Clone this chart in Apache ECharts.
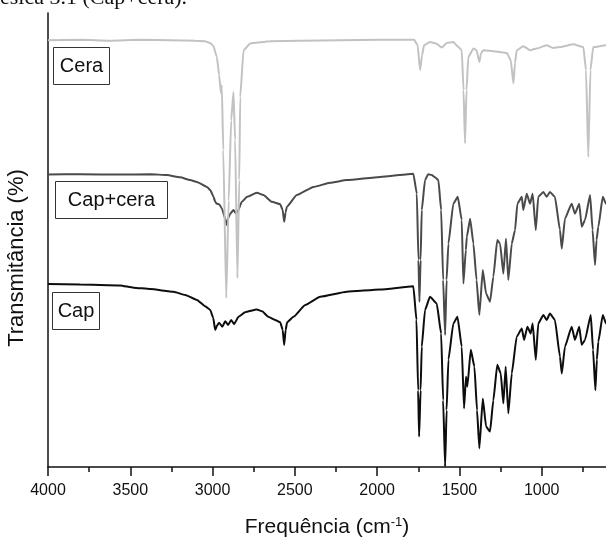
<!DOCTYPE html>
<html>
<head>
<meta charset="utf-8">
<script src="https://cdn.jsdelivr.net/npm/echarts@6/dist/echarts.min.js"></script>
<style>
html,body{margin:0;padding:0;background:#fff;overflow:hidden;}
#chart{width:630px;height:542px;}
</style>
</head>
<body>
<div id="chart"></div>
<script>
// Wavenumber ticks (cm-1)
const xTicks = [4000, 3500, 3000, 2500, 2000, 1500, 1000];

// Cera (wax)
const ceraWn = [4000,3804,3622,3439,3257,3105,3045,3015,2996,2974,2960,2949,2944,2935,2917,2902,2887,2873,2863,2849,2838,2832,2812,2771,2650,2468,2225,1982,1775,1754,1739,1727,1715,1679,1642,1607,1577,1537,1506,1486,1475,1466,1457,1446,1415,1396,1379,1369,1355,1294,1212,1188,1172,1162,1152,1112,1071,1030,970,931,889,808,747,731,717,704,687,610,524];
const ceraT  = [94.0,94.1,93.9,94.1,94.0,93.9,93.8,93.4,92.8,90.3,86.3,82.3,84.1,69.8,37.2,58.7,76.4,82.6,72.0,41.6,63.2,81.5,91.8,93.3,93.8,93.9,94.0,94.1,94.1,92.9,87.4,90.7,92.9,93.6,93.3,92.4,93.4,93.6,92.5,91.8,83.0,71.3,83.0,90.3,92.2,91.8,89.2,91.1,91.8,91.6,91.2,89.6,84.5,89.1,91.8,92.7,91.8,92.2,92.9,92.3,92.5,93.1,92.5,87.4,68.3,87.4,92.5,92.9,92.9];

// Cap+cera
const capCeraWn = [4000,3804,3561,3379,3277,3197,3136,3095,3034,3014,2994,2984,2974,2960,2943,2923,2913,2905,2893,2873,2859,2849,2822,2791,2731,2691,2640,2589,2574,2565,2556,2549,2488,2387,2286,2184,1982,1780,1759,1749,1743,1736,1729,1709,1690,1668,1648,1628,1611,1599,1587,1578,1567,1537,1510,1486,1476,1461,1455,1435,1415,1396,1379,1358,1338,1314,1294,1270,1253,1233,1217,1203,1182,1162,1148,1121,1112,1091,1071,1055,1036,1021,990,970,950,920,889,878,859,818,798,772,757,737,706,691,676,667,656,629,609,555];
const capCeraT  = [64.4,64.5,64.4,64.5,64.3,63.8,63.2,62.8,61.7,61.0,59.5,58.4,58.0,57.9,56.9,54.7,53.3,54.8,55.8,56.6,55.9,56.2,58.4,59.5,60.4,59.9,58.4,57.9,56.6,54.0,56.1,57.3,59.9,61.7,62.6,63.2,63.9,64.6,60.2,45.6,36.4,45.6,56.6,63.2,64.5,64.3,63.8,63.2,56.6,41.2,29.1,41.2,49.2,58.0,59.5,54.4,40.4,47.8,50.7,54.7,49.2,41.2,33.5,43.4,38.2,36.4,41.9,50.0,49.2,42.6,50.3,41.2,49.2,52.2,58.0,59.5,56.6,60.2,58.0,60.2,52.2,59.5,60.6,59.5,60.6,59.5,52.2,48.1,54.7,58.0,55.8,58.0,52.9,54.4,59.9,52.2,44.5,50.0,52.9,59.5,58.0,57.7];

// Cap
const capWn = [4000,3804,3561,3480,3379,3237,3166,3095,3045,3014,2996,2984,2972,2960,2941,2923,2905,2887,2869,2842,2802,2731,2699,2662,2620,2589,2574,2565,2556,2547,2508,2437,2346,2184,1982,1780,1761,1751,1745,1736,1729,1709,1679,1638,1611,1599,1587,1578,1567,1537,1512,1486,1472,1460,1452,1431,1409,1393,1379,1358,1338,1314,1294,1270,1249,1233,1219,1203,1182,1152,1121,1107,1087,1067,1055,1036,1021,990,970,950,920,889,878,859,818,798,772,757,737,702,688,674,665,656,629,609,555];
const capT  = [40.3,40.2,40.0,39.5,39.2,38.6,37.9,36.8,35.4,34.6,32.8,30.2,31.2,31.8,30.9,32.1,31.3,32.4,31.5,33.1,34.1,34.7,34.3,33.1,32.4,31.9,30.2,26.9,30.2,31.9,33.1,35.7,37.5,38.6,39.1,39.8,32.4,16.9,6.7,16.9,26.5,34.6,37.5,36.0,29.4,14.7,0.1,12.5,23.6,31.6,33.1,26.5,12.9,19.9,17.7,25.8,22.1,12.5,4.1,15.1,8.9,7.8,14.7,22.5,20.6,14.0,22.1,11.8,20.6,28.7,30.5,28.0,30.9,29.4,31.6,23.6,31.6,33.5,32.4,33.8,32.4,24.3,20.6,26.5,30.9,28.0,30.9,26.9,28.0,33.5,25.8,16.9,23.6,27.6,33.5,31.6,31.3];

const seriesNames = ['Cap', 'Cap+cera', 'Cera'];

function zip(a, b) { return a.map((v, i) => [v, b[i]]); }

const FONT = "'Liberation Sans', Arial, sans-serif";
const chart = echarts.init(document.getElementById('chart'), null, {renderer: 'canvas'});

const lineCommon = {type: 'line', showSymbol: false, symbol: 'none', smooth: 0.15, smoothMonotone: 'x'};

chart.setOption({
  animation: false,
  backgroundColor: '#fff',
  grid: {left: 48, top: 13, right: 6, bottom: 75},
  xAxis: {
    type: 'value', inverse: true, min: 500, max: 4000, interval: 500,
    axisLine: {show: true, onZero: false, lineStyle: {color: '#111', width: 1.5}},
    axisTick: {show: true, length: 9, lineStyle: {color: '#111', width: 1.5}},
    minorTick: {show: true, splitNumber: 2, length: 5, lineStyle: {color: '#111', width: 1.5}},
    splitLine: {show: false},
    axisLabel: {
      margin: 16, fontSize: 16, color: '#111', fontFamily: FONT,
      formatter: v => xTicks.includes(v) ? String(v) : ''
    }
  },
  yAxis: {
    type: 'value', min: 0, max: 100,
    axisLine: {show: true, lineStyle: {color: '#111', width: 1.5}},
    axisTick: {show: false}, axisLabel: {show: false}, splitLine: {show: false}
  },
  series: [
    Object.assign({name: seriesNames[0], data: zip(capWn, capT), lineStyle: {color: '#0d0d0d', width: 2}, z: 2}, lineCommon),
    Object.assign({name: seriesNames[1], data: zip(capCeraWn, capCeraT), lineStyle: {color: '#4a4a4a', width: 2}, z: 3}, lineCommon),
    Object.assign({name: seriesNames[2], data: zip(ceraWn, ceraT), lineStyle: {color: '#c2c2c2', width: 2}, z: 4}, lineCommon)
  ],
  graphic: [
    {type: 'text', left: 0, top: -13, z: 10,
     style: {text: 'ésica 3.1 (Cap+cera).', font: "22px 'Liberation Serif', 'Times New Roman', serif", fill: '#111'}},
    {type: 'rect', shape: {x: 53.5, y: 47.5, width: 56, height: 37}, style: {fill: '#fff', stroke: '#333', lineWidth: 1}, z: 10},
    {type: 'text', x: 81.5, y: 66, z: 11, style: {text: seriesNames[2], font: '20px ' + FONT, fill: '#111', align: 'center', verticalAlign: 'middle'}},
    {type: 'rect', shape: {x: 55.5, y: 181.5, width: 112, height: 37}, style: {fill: '#fff', stroke: '#333', lineWidth: 1}, z: 10},
    {type: 'text', x: 111.5, y: 200, z: 11, style: {text: seriesNames[1], font: '20px ' + FONT, fill: '#111', align: 'center', verticalAlign: 'middle'}},
    {type: 'rect', shape: {x: 52.5, y: 292.5, width: 47, height: 37}, style: {fill: '#fff', stroke: '#333', lineWidth: 1}, z: 10},
    {type: 'text', x: 76, y: 311, z: 11, style: {text: seriesNames[0], font: '20px ' + FONT, fill: '#111', align: 'center', verticalAlign: 'middle'}},
    {type: 'text', x: 17, y: 258, rotation: Math.PI / 2, z: 10,
     style: {text: 'Transmitância (%)', font: '22px ' + FONT, fill: '#111', align: 'center', verticalAlign: 'middle'}},
    {type: 'text', x: 327, y: 527, z: 10,
     style: {text: 'Frequência (cm{sup|-1})', font: '21px ' + FONT, fill: '#111', align: 'center', verticalAlign: 'middle',
       rich: {sup: {fontSize: 13, fontFamily: FONT, fill: '#111', verticalAlign: 'top', padding: [0, 0, 10, 0]}}}}
  ]
});
</script>
</body>
</html>
